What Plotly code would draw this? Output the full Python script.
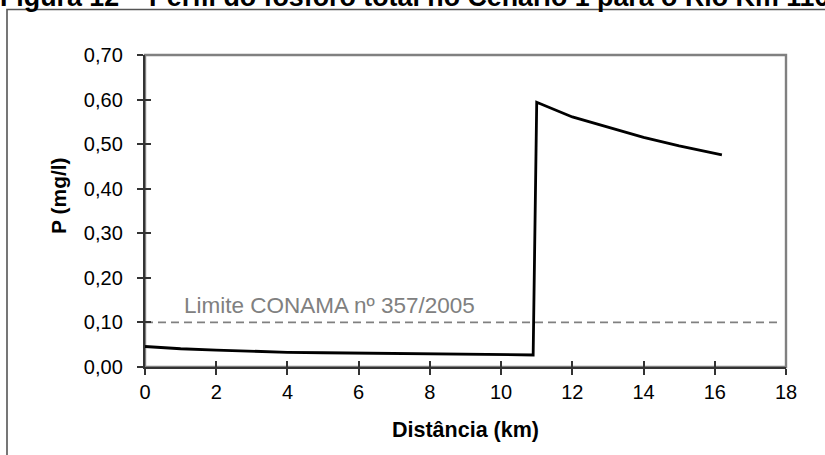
import plotly.graph_objects as go

# Total phosphorus profile along the river (km, mg/l)
distance_km = [0, 1, 2, 3, 4, 5, 6, 7, 8, 9, 10, 10.9,
               11.0, 12, 13, 14, 15, 16, 16.2]
phosphorus = [0.046, 0.041, 0.038, 0.035, 0.033, 0.032, 0.031, 0.030, 0.029, 0.028, 0.028, 0.027,
              0.594, 0.561, 0.538, 0.515, 0.496, 0.479, 0.476]

# CONAMA 357/2005 limit
limit_x = [0, 17.8]
limit_y = [0.10, 0.10]
limit_label = "Limite CONAMA nº 357/2005"

x_ticks = [0, 2, 4, 6, 8, 10, 12, 14, 16, 18]
y_ticks = [0, 0.1, 0.2, 0.3, 0.4, 0.5, 0.6, 0.7]
y_tick_text = ["0,00", "0,10", "0,20", "0,30", "0,40", "0,50", "0,60", "0,70"]

title_text = "Figura 12 – Perfil do fósforo total no Cenário 1 para o Rio Km 116"

FONT = "Liberation Sans, Arial, sans-serif"
W, H = 825, 455
L, R, T, B = 145, 39, 55, 88
PW, PH = W - L - R, H - T - B


def px_x(p):
    return (p - L) / PW


def px_y(p):
    return (H - B - p) / PH


fig = go.Figure()

fig.add_trace(go.Scatter(
    x=limit_x, y=limit_y, mode="lines",
    line=dict(color="#808080", width=1.7, dash="8px,5px"),
    showlegend=False, hoverinfo="skip"))

fig.add_trace(go.Scatter(
    x=distance_km, y=phosphorus, mode="lines",
    line=dict(color="#000000", width=2.8),
    showlegend=False))

# helper trace so the overlay axes (inner half of the cross ticks) are drawn
fig.add_trace(go.Scatter(
    x=distance_km, y=phosphorus, xaxis="x2", yaxis="y2", mode="lines",
    line=dict(color="rgba(0,0,0,0)", width=0), opacity=0,
    showlegend=False, hoverinfo="skip"))

tick_font = dict(family=FONT, size=20, color="#000000")

fig.update_layout(
    width=W, height=H, autosize=False,
    margin=dict(l=L, r=R, t=T, b=B, pad=0),
    paper_bgcolor="#ffffff", plot_bgcolor="#ffffff",
    xaxis=dict(range=[0, 18], tickvals=x_ticks, ticks="outside", ticklen=6,
               tickwidth=1.6, tickcolor="#333333", showgrid=False, zeroline=False,
               showline=True, linecolor="#333333", linewidth=2.4,
               tickfont=tick_font, ticklabelstandoff=0),
    yaxis=dict(range=[0, 0.7], tickvals=y_ticks, ticktext=y_tick_text,
               ticks="outside", ticklen=6, tickwidth=1.6, tickcolor="#333333",
               showgrid=False, zeroline=False, showline=True,
               linecolor="#333333", linewidth=2.4,
               tickfont=tick_font, ticklabelstandoff=10),
    xaxis2=dict(range=[0, 18], tickvals=x_ticks, ticks="inside", ticklen=6,
                tickwidth=1.6, tickcolor="#333333", showticklabels=False,
                showgrid=False, zeroline=False, showline=False,
                overlaying="x", anchor="y2", side="bottom"),
    yaxis2=dict(range=[0, 0.7], tickvals=y_ticks, ticks="inside", ticklen=6,
                tickwidth=1.6, tickcolor="#333333", showticklabels=False,
                showgrid=False, zeroline=False, showline=False,
                overlaying="y", anchor="x2", side="left"),
)

# gray plot-area border (top and right) and the outer chart frame
fig.add_shape(type="rect", xref="paper", yref="paper", x0=0, x1=1, y0=0, y1=1,
              line=dict(color="#808080", width=2.4), layer="below")
fig.add_shape(type="rect", xref="paper", yref="paper",
              x0=px_x(7), x1=px_x(W + 20), y0=px_y(H + 20), y1=px_y(9.5),
              line=dict(color="#555555", width=1.6), layer="below")

fig.add_annotation(text=limit_label, x=1.05, y=0.139, xref="x", yref="y",
                   xanchor="left", yanchor="middle", showarrow=False,
                   font=dict(family=FONT, size=22.5, color="#808080"))

fig.add_annotation(text="<b>P (mg/l)</b>", x=px_x(58), y=px_y(195),
                   xref="paper", yref="paper", textangle=-90,
                   xanchor="center", yanchor="middle", showarrow=False,
                   font=dict(family=FONT, size=21, color="#000000"))

fig.add_annotation(text="<b>Distância (km)</b>", x=px_x(465), y=px_y(430),
                   xref="paper", yref="paper",
                   xanchor="center", yanchor="middle", showarrow=False,
                   font=dict(family=FONT, size=21.5, color="#000000"))

# figure caption, running past the page edges
fig.add_annotation(text="<b>" + title_text + "</b>", x=px_x(-2), y=px_y(14),
                   xref="paper", yref="paper",
                   xanchor="left", yanchor="bottom", showarrow=False,
                   font=dict(family=FONT, size=26.8, color="#000000"))

fig.write_html("out.html")
